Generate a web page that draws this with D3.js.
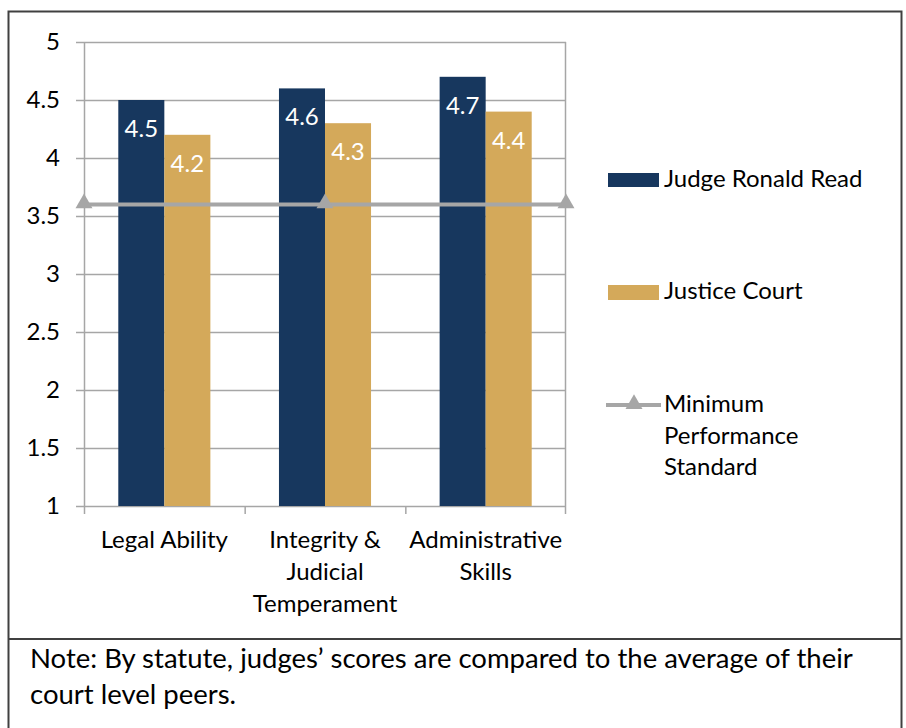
<!DOCTYPE html>
<html>
<head>
<meta charset="utf-8">
<script src="https://cdn.jsdelivr.net/npm/d3@7"></script>
<style>
  html, body { margin: 0; padding: 0; background: #fff; }
  svg { display: block; font-family: Lato, "Open Sans", sans-serif; }
</style>
</head>
<body>
<svg id="chart" width="906" height="728"></svg>
<script>
// Judicial performance evaluation scores
const categories = [["Legal Ability"], ["Integrity &", "Judicial", "Temperament"], ["Administrative", "Skills"]];
const categoryKeys = ["Legal Ability", "Integrity & Judicial Temperament", "Administrative Skills"];
const judgeScores = [4.5, 4.6, 4.7];
const courtScores = [4.2, 4.3, 4.4];
const minimumStandard = [3.6, 3.6, 3.6];
const seriesNames = ["Judge Ronald Read", "Justice Court", ["Minimum", "Performance", "Standard"]];
const yTicks = [1, 1.5, 2, 2.5, 3, 3.5, 4, 4.5, 5];
const noteLines = ["Note: By statute, judges\u2019 scores are compared to the average of their", "court level peers."];

const colors = { judge: "#17375e", court: "#d4a95a", min: "#a6a6a6", grid: "#a6a6a6", frame: "#404040" };
const fontSize = 24;

const svg = d3.select("#chart");
const plot = { left: 84, right: 566, top: 42, bottom: 506 };

const x = d3.scaleBand().domain(categoryKeys).range([plot.left, plot.right]).paddingInner(0).paddingOuter(0);
const inner = d3.scaleBand().domain(["judge", "court"]).range([0, x.bandwidth()]).paddingInner(0).paddingOuter(0.745);
const y = d3.scaleLinear().domain([1, 5]).range([plot.bottom, plot.top]);

// Outer frames
svg.append("rect").attr("x", 8.5).attr("y", 11.5).attr("width", 893).attr("height", 760)
  .attr("fill", "none").attr("stroke", colors.frame).attr("stroke-width", 2);
svg.append("line").attr("x1", 8).attr("x2", 902).attr("y1", 639).attr("y2", 639)
  .attr("stroke", colors.frame).attr("stroke-width", 2);

// Horizontal gridlines
svg.append("g").selectAll("line").data(yTicks).join("line")
  .attr("x1", plot.left - 8).attr("x2", plot.right)
  .attr("y1", d => Math.round(y(d)) + 0.5).attr("y2", d => Math.round(y(d)) + 0.5)
  .attr("stroke", colors.grid).attr("stroke-width", 1.5);

// Y axis
const yAxis = d3.axisLeft(y).tickValues(yTicks).tickFormat(d3.format("")).tickSize(0).tickPadding(24);
const gy = svg.append("g").attr("transform", `translate(${plot.left},0)`).call(yAxis);
gy.select(".domain").remove();
gy.selectAll("text").attr("font-size", fontSize).attr("fill", "#000").attr("font-family", "Lato, sans-serif");
svg.append("line").attr("x1", plot.left + 0.5).attr("x2", plot.left + 0.5).attr("y1", plot.top).attr("y2", plot.bottom + 8)
  .attr("stroke", colors.grid).attr("stroke-width", 1.5);
svg.append("line").attr("x1", plot.right - 0.5).attr("x2", plot.right - 0.5).attr("y1", plot.top).attr("y2", plot.bottom + 8)
  .attr("stroke", colors.grid).attr("stroke-width", 1.5);

// X axis ticks at category boundaries
const boundaries = categoryKeys.map(c => x(c)).concat([plot.right]);
svg.append("g").selectAll("line").data(boundaries.slice(1, -1)).join("line")
  .attr("x1", d => d + 0.5).attr("x2", d => d + 0.5).attr("y1", plot.bottom).attr("y2", plot.bottom + 8)
  .attr("stroke", colors.grid).attr("stroke-width", 1.5);

// Bars
const groups = svg.append("g").selectAll("g").data(categoryKeys).join("g")
  .attr("transform", d => `translate(${x(d)},0)`);

const barData = (d, i) => [
  { key: "judge", value: judgeScores[i] },
  { key: "court", value: courtScores[i] }
];

groups.each(function (d, i) {
  const g = d3.select(this);
  const bars = barData(d, i);
  g.selectAll("rect").data(bars).join("rect")
    .attr("x", b => inner(b.key))
    .attr("width", inner.bandwidth())
    .attr("y", b => y(b.value))
    .attr("height", b => y(1) - y(b.value))
    .attr("fill", b => colors[b.key]);
  g.selectAll("text").data(bars).join("text")
    .attr("x", b => inner(b.key) + inner.bandwidth() / 2)
    .attr("y", b => y(b.value) + 37)
    .attr("text-anchor", "middle")
    .attr("font-size", fontSize)
    .attr("fill", "#fff")
    .text(b => b.value.toFixed(1));
});

// Minimum performance standard line
const lineX = d3.scalePoint().domain(categoryKeys).range([plot.left, plot.right]);
const linePts = categoryKeys.map((c, i) => [lineX(c), y(minimumStandard[i])]);
svg.append("path").datum(linePts)
  .attr("d", d3.line())
  .attr("fill", "none").attr("stroke", colors.min).attr("stroke-width", 4);
const tri = d3.symbol().type(d3.symbolTriangle).size(125);
svg.append("g").selectAll("path").data(linePts).join("path")
  .attr("transform", d => `translate(${d[0]},${d[1] - 1})`)
  .attr("d", tri).attr("fill", colors.min);

// Category labels
const xl = svg.append("g").selectAll("text").data(categories).join("text")
  .attr("text-anchor", "middle")
  .attr("font-size", fontSize)
  .attr("fill", "#000")
  .attr("transform", (d, i) => `translate(${x(categoryKeys[i]) + x.bandwidth() / 2},548)`);
xl.selectAll("tspan").data(d => d).join("tspan")
  .attr("x", 0).attr("dy", (d, i) => i === 0 ? 0 : 32).text(d => d);

// Legend
const legend = svg.append("g");
legend.append("rect").attr("x", 608).attr("y", 173).attr("width", 51).attr("height", 14).attr("fill", colors.judge);
legend.append("text").attr("x", 664).attr("y", 187).attr("font-size", fontSize).text(seriesNames[0]);
legend.append("rect").attr("x", 608).attr("y", 285).attr("width", 51).attr("height", 15).attr("fill", colors.court);
legend.append("text").attr("x", 664).attr("y", 299).attr("font-size", fontSize).text(seriesNames[1]);
legend.append("line").attr("x1", 606).attr("x2", 661).attr("y1", 405).attr("y2", 405)
  .attr("stroke", colors.min).attr("stroke-width", 4);
legend.append("path").attr("transform", "translate(634,404)").attr("d", tri).attr("fill", colors.min);
const minLabel = legend.append("text").attr("font-size", fontSize).attr("transform", "translate(664,412)");
minLabel.selectAll("tspan").data(seriesNames[2]).join("tspan")
  .attr("x", 0).attr("dy", (d, i) => i === 0 ? 0 : 31.5).text(d => d);

// Note
svg.append("g").selectAll("text").data(noteLines).join("text")
  .attr("x", 30).attr("y", (d, i) => 668 + i * 36)
  .attr("font-size", 27.5).attr("fill", "#000")
  .text(d => d);
</script>
</body>
</html>
